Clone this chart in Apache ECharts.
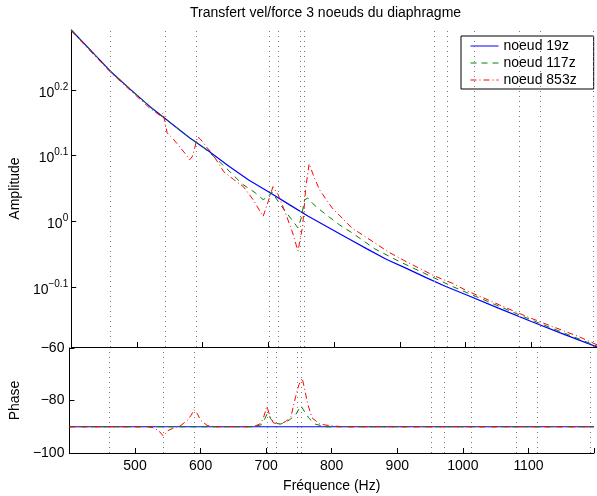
<!DOCTYPE html>
<html>
<head>
<meta charset="utf-8">
<script src="https://cdn.jsdelivr.net/npm/echarts@6/dist/echarts.min.js"></script>
<style>
  html, body { margin: 0; padding: 0; background: #fff; }
  #chart { width: 597px; height: 496px; }
</style>
</head>
<body>
<div id="chart"></div>
<script>
  // amplitude, noeud 19z
  var freqBlue = [400, 430, 460, 490, 520, 550, 580, 610, 640, 670, 700, 730, 760, 790, 820, 850, 880, 910, 940, 970, 1000, 1050, 1100, 1150, 1200];
  var ampBlue = [1.954, 1.818, 1.690, 1.587, 1.494, 1.415, 1.340, 1.277, 1.213, 1.156, 1.109, 1.063, 1.019, 0.980, 0.943, 0.908, 0.875, 0.848, 0.821, 0.796, 0.774, 0.738, 0.704, 0.673, 0.644];

  // amplitude, noeud 117z
  var freqGreen = [400, 460, 520, 580, 600, 610, 635, 660, 680, 692, 700, 705, 710, 717, 727, 737, 745, 750, 755, 760, 768, 778, 792, 808, 827, 862, 900, 980, 1100, 1200];
  var ampGreen = [1.954, 1.690, 1.494, 1.340, 1.299, 1.273, 1.207, 1.140, 1.105, 1.079, 1.090, 1.109, 1.090, 1.065, 1.031, 1.002, 0.977, 1.012, 1.078, 1.085, 1.063, 1.042, 1.016, 0.988, 0.961, 0.908, 0.868, 0.796, 0.708, 0.646];

  // amplitude, noeud 853z
  var freqRed = [400, 430, 460, 490, 520, 535, 540, 543, 546, 555, 565, 575, 580, 584, 588, 592, 596, 600, 607, 615, 632, 647, 662, 677, 692, 700, 707, 715, 727, 737, 745, 752, 757, 762, 770, 778, 797, 827, 862, 882, 910, 932, 955, 980, 1002, 1027, 1052, 1075, 1097, 1122, 1172, 1200];
  var ampRed = [1.949, 1.811, 1.685, 1.581, 1.485, 1.449, 1.462, 1.407, 1.363, 1.335, 1.298, 1.262, 1.240, 1.253, 1.293, 1.344, 1.335, 1.321, 1.293, 1.266, 1.190, 1.158, 1.129, 1.078, 1.017, 1.074, 1.129, 1.097, 1.023, 0.960, 0.901, 0.981, 1.128, 1.223, 1.164, 1.116, 1.048, 0.977, 0.927, 0.899, 0.868, 0.846, 0.824, 0.805, 0.784, 0.765, 0.746, 0.729, 0.714, 0.698, 0.668, 0.649];

  // phase (deg)
  var phFreqBlue = [400, 1200];
  var phaseBlue = [-90, -90];
  var phFreqGreen = [400, 680, 692, 697, 702, 707, 713, 722, 735, 745, 753, 758, 765, 775, 790, 1200];
  var phaseGreen = [-90, -90, -89.3, -87.5, -84.8, -87, -88.6, -89, -87.5, -85.4, -82, -84, -86.7, -89, -90, -90];
  var phFreqRed = [400, 520, 530, 538, 543, 550, 560, 570, 580, 586, 590, 595, 600, 610, 620, 680, 690, 695, 701, 706, 711, 720, 730, 738, 745, 750, 755, 759, 763, 770, 782, 800, 820, 1200];
  var phaseRed = [-90, -90, -90.5, -92, -93.5, -91.5, -90.3, -89.5, -87.5, -85.5, -83.5, -85, -87.5, -89.5, -90, -90, -89, -87.3, -82.3, -86, -88.5, -89, -88, -86, -78.5, -74, -71.5, -76, -81, -86.6, -89, -89.7, -90, -90];

  // modal frequencies (dotted verticals)
  var modeFreqs = [460, 543, 590, 702, 715, 748, 754, 952, 972, 1013, 1082, 1114, 1194];

  var ampTickExps = [-0.1, 0, 0.1, 0.2];
  var phaseTicks = [-100, -80, -60];
  var names = ['noeud 19z', 'noeud 117z', 'noeud 853z'];

  var font = "'Liberation Sans', Arial, Helvetica, sans-serif";

  function pairs(xs, ys, logY) {
    return xs.map(function (x, i) { return [x, logY ? Math.log10(ys[i]) : ys[i]]; });
  }
  function minus(s) { return String(s).replace('-', '\u2212'); }

  var lineBlue = { color: '#0000ff', width: 1.2, type: 'solid' };
  var lineGreen = { color: '#008000', width: 1, type: [6, 5] };
  var lineRed = { color: '#ff0000', width: 1, type: [6, 3, 1, 3] };

  var modeLines = {
    silent: true,
    symbol: ['none', 'none'],
    label: { show: false },
    lineStyle: { color: '#777', width: 1, type: [1, 4] },
    data: modeFreqs.map(function (f) { return { xAxis: f }; })
  };

  function series(name, xi, data, style, withModes) {
    var s = {
      name: name, type: 'line', xAxisIndex: xi, yAxisIndex: xi,
      data: data, symbol: 'none', lineStyle: style, itemStyle: { color: style.color },
      emphasis: { disabled: true }, animation: false
    };
    if (withModes) s.markLine = modeLines;
    return s;
  }

  var axisBlack = { show: true, lineStyle: { color: '#000', width: 1 } };
  var textBase = { color: '#000', fontSize: 14, fontFamily: font };

  var option = {
    animation: false,
    title: {
      text: 'Transfert vel/force 3 noeuds du diaphragme',
      left: 190, top: 6, padding: 0,
      textStyle: { color: '#000', fontSize: 14, fontWeight: 'normal', fontFamily: font }
    },
    legend: {
      data: names,
      orient: 'vertical',
      left: 461, top: 36,
      padding: [3, 17, 2, 9],
      itemGap: 3,
      itemWidth: 28, itemHeight: 14,
      borderColor: '#000', borderWidth: 1,
      backgroundColor: '#fff',
      itemStyle: { opacity: 0 },
      lineStyle: { width: 1 },
      textStyle: textBase
    },
    grid: [
      { left: 65, top: 30, right: 0, height: 317 },
      { left: 65, top: 348, right: 0, height: 105 }
    ],
    xAxis: [
      {
        gridIndex: 0, type: 'value', min: 400, max: 1200, interval: 100,
        axisLine: { show: true, onZero: false, lineStyle: { color: '#000' } },
        axisTick: { show: true, inside: true, length: 5, lineStyle: { color: '#000' } },
        axisLabel: { show: false },
        splitLine: { show: false }
      },
      {
        gridIndex: 1, type: 'value', min: 400, max: 1200, interval: 100,
        axisLine: { show: true, onZero: false, lineStyle: { color: '#000' } },
        axisTick: { show: true, inside: true, length: 5, lineStyle: { color: '#000' } },
        axisLabel: Object.assign({
          margin: 6,
          formatter: function (v) { return (v === 400 || v === 1200) ? '' : String(v); }
        }, textBase),
        splitLine: { show: false },
        name: 'Fr\u00e9quence (Hz)', nameLocation: 'middle', nameGap: 26,
        nameTextStyle: textBase
      }
    ],
    yAxis: [
      {
        gridIndex: 0, type: 'value',
        min: Math.log10(ampBlue[ampBlue.length - 1]),
        max: Math.log10(ampBlue[0]),
        axisLine: axisBlack,
        axisTick: { show: true, inside: true, length: 5, customValues: ampTickExps, lineStyle: { color: '#000' } },
        axisLabel: {
          customValues: ampTickExps,
          margin: 3,
          formatter: function (v) {
            var e = Math.abs(v) < 1e-9 ? '0' : minus(v.toFixed(1));
            return '{b|10}{s|' + e + '}';
          },
          rich: {
            b: { fontSize: 14, fontFamily: font, color: '#000', padding: [6, 0, 0, 0] },
            s: { fontSize: 10, fontFamily: font, color: '#000', padding: [0, 0, 6, 0] }
          }
        },
        splitLine: { show: false },
        name: 'Amplitude', nameLocation: 'middle', nameGap: 38,
        nameTextStyle: textBase
      },
      {
        gridIndex: 1, type: 'value', min: -100, max: -60, interval: 20,
        axisLine: axisBlack,
        axisTick: { show: true, inside: true, length: 5, lineStyle: { color: '#000' } },
        axisLabel: Object.assign({
          margin: 5,
          customValues: phaseTicks,
          formatter: function (v) { return minus(v); }
        }, textBase),
        splitLine: { show: false },
        name: 'Phase', nameLocation: 'middle', nameGap: 38,
        nameTextStyle: textBase
      }
    ],
    series: [
      series(names[0], 0, pairs(freqBlue, ampBlue, true), lineBlue, true),
      series(names[1], 0, pairs(freqGreen, ampGreen, true), lineGreen, false),
      series(names[2], 0, pairs(freqRed, ampRed, true), lineRed, false),
      series(names[0], 1, pairs(phFreqBlue, phaseBlue, false), lineBlue, true),
      series(names[1], 1, pairs(phFreqGreen, phaseGreen, false), lineGreen, false),
      series(names[2], 1, pairs(phFreqRed, phaseRed, false), lineRed, false)
    ]
  };

  var myChart = echarts.init(document.getElementById('chart'));
  myChart.setOption(option);
</script>
</body>
</html>
